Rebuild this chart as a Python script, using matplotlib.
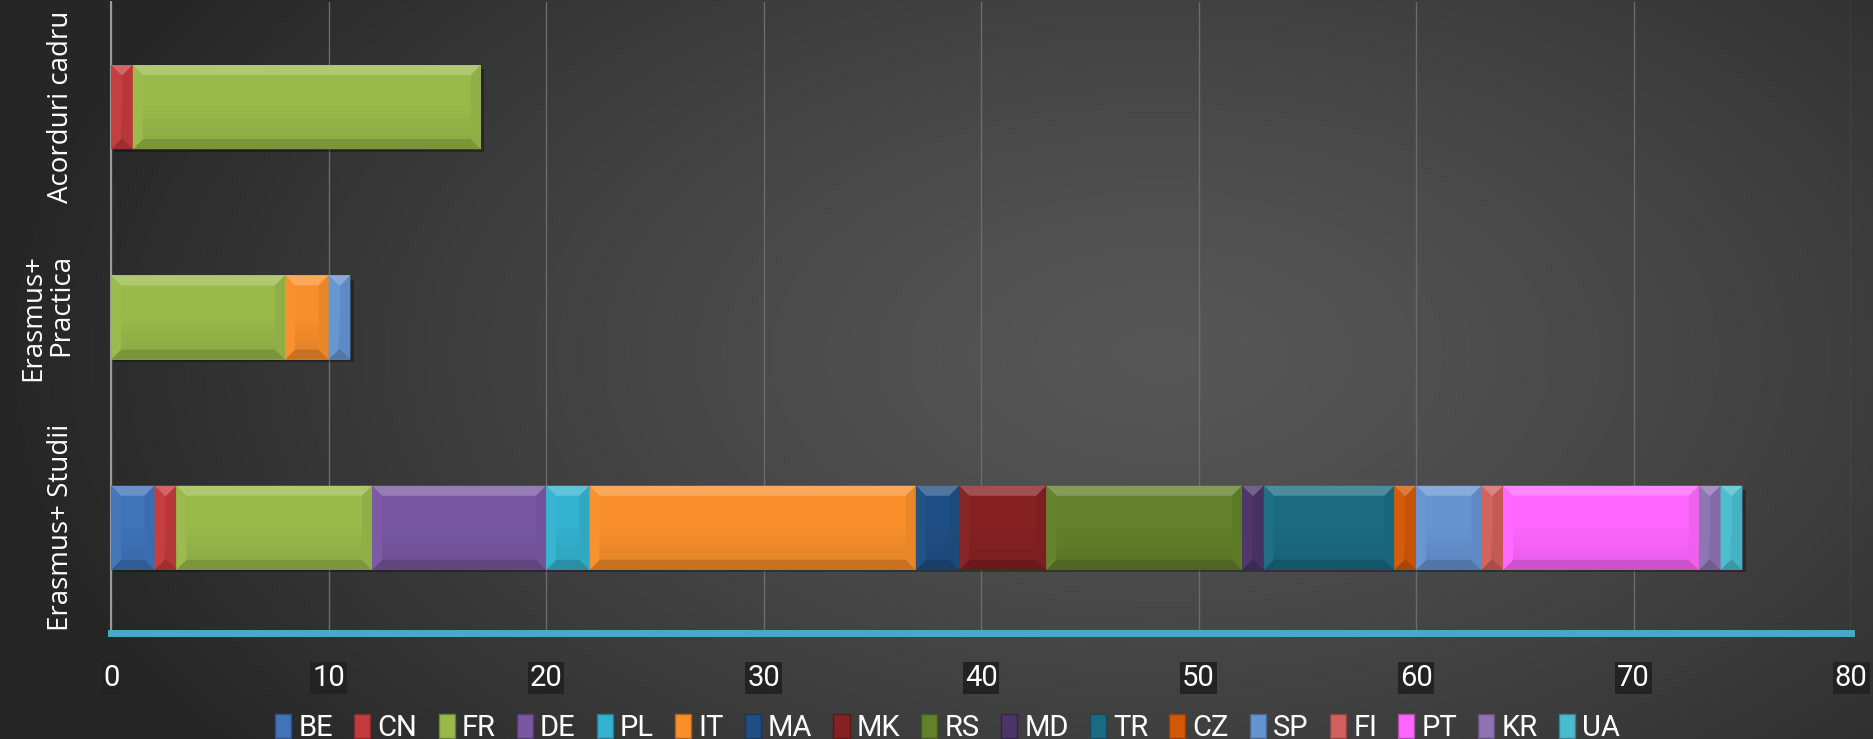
import numpy as np
import matplotlib.pyplot as plt
from matplotlib.patches import Polygon, Patch
from matplotlib.colors import to_rgb

categories = ['Erasmus+ Studii', 'Erasmus+\nPractica', 'Acorduri cadru']
countries = ['BE', 'CN', 'FR', 'DE', 'PL', 'IT', 'MA', 'MK', 'RS', 'MD', 'TR', 'CZ', 'SP', 'FI', 'PT', 'KR', 'UA']
# values per country for [Studii, Practica, Acorduri cadru]
BE = [2, 0, 0]
CN = [1, 0, 1]
FR = [9, 8, 16]
DE = [8, 0, 0]
PL = [2, 0, 0]
IT = [15, 2, 0]
MA = [2, 0, 0]
MK = [4, 0, 0]
RS = [9, 0, 0]
MD = [1, 0, 0]
TR = [6, 0, 0]
CZ = [1, 0, 0]
SP = [3, 1, 0]
FI = [1, 0, 0]
PT = [9, 0, 0]
KR = [1, 0, 0]
UA = [1, 0, 0]
series = [BE, CN, FR, DE, PL, IT, MA, MK, RS, MD, TR, CZ, SP, FI, PT, KR, UA]
colours = ['#3f74b9', '#c33b3d', '#99ba4a', '#7957a3', '#33b2cf', '#f88f2b', '#1f4e84',
           '#852123', '#63802a', '#4a3468', '#1b6b83', '#d25806', '#6594d1', '#d1605e',
           '#ff66ff', '#8e72b1', '#4bbccf']
narrow = ['Roboto', 'DejaVu Sans']


def shade(c, f):
    r = np.array(to_rgb(c))
    if f > 0:
        return tuple(r + (1 - r) * f)
    return tuple(r * (1 + f))


fig = plt.figure(figsize=(18.73, 7.39), dpi=100)

# dark radial background
bg = fig.add_axes([0, 0, 1, 1], zorder=-2)
yy, xx = np.mgrid[0:1:400j, 0:1:1000j]
d = np.sqrt(((xx - 0.62) / 0.62) ** 2 + ((yy - 0.52) / 0.9) ** 2)
d = np.clip(d, 0, 1)
val = 0.34 - 0.19 * d ** 1.3
bg.imshow(np.dstack([val, val, val]), aspect='auto', extent=[0, 1, 0, 1], origin='lower')
bg.axis('off')

ax = fig.add_axes([0.0593, 0.1434, 0.9290, 0.8539])
ax.set_facecolor('none')
ax.set_xlim(0, 80)
ax.set_ylim(-0.5, 2.5)

h = 0.40
y = np.arange(len(categories))
dx = 10 / 21.75
dy = 10 / 210.5
left = np.zeros(len(categories))
for vals, col in zip(series, colours):
    vals = np.array(vals, dtype=float)
    bars = ax.barh(y, vals, height=h, left=left, color=col, edgecolor='none', zorder=3)
    for b, v in zip(bars, vals):
        if v <= 0:
            continue
        x0, y0, w, hh = b.get_x(), b.get_y(), b.get_width(), b.get_height()
        x1, y1 = x0 + w, y0 + hh
        ix = min(dx, w / 2)
        # drop shadow
        ax.add_patch(Polygon([(x0 + 0.15, y0 - 0.012), (x1 + 0.15, y0 - 0.012), (x1 + 0.15, y1 - 0.02),
                              (x1, y1 - 0.02), (x1, y0), (x0 + 0.15, y0)],
                             closed=True, facecolor='black', alpha=0.3, edgecolor='none', zorder=2))
        # soft vertical shading of the face
        for k in range(6):
            f = -0.015 * (6 - k)
            ax.add_patch(Polygon([(x0, y0 + hh * k / 12), (x1, y0 + hh * k / 12),
                                  (x1, y0 + hh * (k + 1) / 12), (x0, y0 + hh * (k + 1) / 12)],
                                 closed=True, facecolor=shade(col, f), edgecolor='none', zorder=3))
        # bevel edges
        ax.add_patch(Polygon([(x0, y1), (x1, y1), (x1 - ix, y1 - dy), (x0 + ix, y1 - dy)],
                             closed=True, facecolor=shade(col, 0.22), edgecolor='none', zorder=4))
        ax.add_patch(Polygon([(x0, y0), (x1, y0), (x1 - ix, y0 + dy), (x0 + ix, y0 + dy)],
                             closed=True, facecolor=shade(col, -0.2), edgecolor='none', zorder=4))
        ax.add_patch(Polygon([(x0, y0), (x0 + ix, y0 + dy), (x0 + ix, y1 - dy), (x0, y1)],
                             closed=True, facecolor=shade(col, 0.02), edgecolor='none', zorder=4))
        ax.add_patch(Polygon([(x1, y0), (x1 - ix, y0 + dy), (x1 - ix, y1 - dy), (x1, y1)],
                             closed=True, facecolor=shade(col, -0.06), edgecolor='none', zorder=4))
    left += vals

ax.set_xticks(np.arange(0, 81, 10))
ax.grid(axis='x', color='#6b6b6b', linewidth=1.0, zorder=0)
ax.set_axisbelow(True)
ax.set_yticks(y)
ax.set_yticklabels(categories, rotation=90, va='center', ha='right', color='white',
                   fontsize=20, family=['Open Sans', 'DejaVu Sans'], linespacing=1.0,
                   multialignment='right')
ax.tick_params(axis='y', length=0, pad=26)
ax.tick_params(axis='x', length=0, pad=22, colors='white', labelsize=21)
for t in ax.get_xticklabels():
    t.set_family(narrow)
    t.set_bbox(dict(facecolor='#232323', edgecolor='none', pad=1.5))

for s in ['top', 'right']:
    ax.spines[s].set_visible(False)
ax.spines['left'].set_color('#9a9a9a')
ax.spines['left'].set_linewidth(1.5)
ax.spines['bottom'].set_color('#48abc4')
ax.spines['bottom'].set_linewidth(5)
ax.spines['bottom'].set_zorder(5)

handles = [Patch(facecolor=c, edgecolor=shade(c, -0.3), label=n) for n, c in zip(countries, colours)]
leg = fig.legend(handles=handles, loc='lower center', bbox_to_anchor=(0.506, -0.04), ncol=17,
                 frameon=False, handlelength=0.55, handleheight=0.9,
                 handletextpad=0.25, columnspacing=0.72,
                 prop={'family': narrow, 'size': 21})
for t in leg.get_texts():
    t.set_color('white')

fig.savefig('out.png', dpi=100)
